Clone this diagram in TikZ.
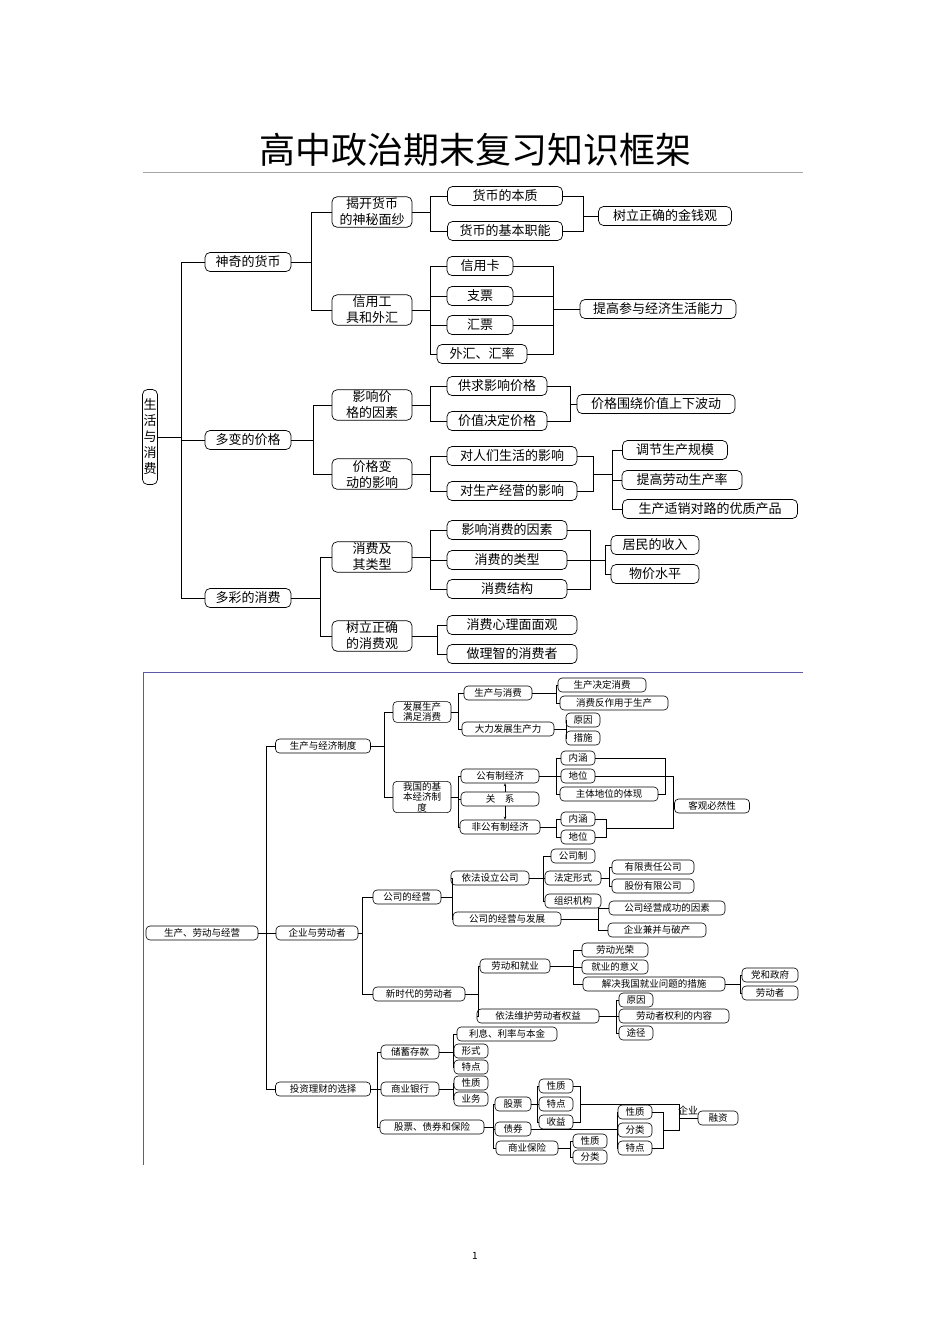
\documentclass[tikz,border=0pt]{standalone}
\usepackage{fontspec}
\setmainfont{Noto Sans CJK SC}
\usetikzlibrary{arrows.meta}
\tikzset{bx/.style={draw,rounded corners=5pt,inner sep=1.2pt,align=center,line width=0.7pt,minimum height=#1},bx/.default=19pt,
 sm/.style={draw,rounded corners=4pt,inner sep=0.8pt,align=center,line width=0.6pt,minimum height=14pt,font=\fontsize{9.5}{10.5}\selectfont},
 every path/.style={line width=0.7pt}}
\newcommand\Nd[5]{\node[bx,minimum width=#4pt] (#1) at (#2,#3) {#5};}
\newcommand\Ns[5]{\node[sm,minimum width=#4pt] (#1) at (#2,#3) {#5};}
\newcommand\lk[3]{\coordinate (tmpb) at (#2,0); \draw (#1.east) -- (#1.east -| tmpb) |- (#3.west);}
\begin{document}
\begin{tikzpicture}[x=1pt,y=-1pt]
\useasboundingbox (0,0) rectangle (950,1344);
\fill[white] (0,0) rectangle (950,1344);
\node at (475,150) {\fontsize{36}{40}\selectfont 高中政治期末复习知识框架};
\draw[gray!70,line width=0.5pt] (143,172) -- (803,172);
\begin{scope}[font=\fontsize{13}{16}\selectfont]
\node[bx,minimum width=15pt,minimum height=95pt,inner sep=0.5pt] (root) at (150,437) {生\\活\\与\\消\\费};
\Nd{a1}{248}{262}{86}{神奇的货币}
\Nd{a2}{248}{440}{86}{多变的价格}
\Nd{a3}{248}{598}{86}{多彩的消费}
\foreach \c in {a1,a2,a3}{\lk{root}{181}{\c}}
\Nd{b1}{372}{212}{80}{揭开货币\\的神秘面纱}
\Nd{b2}{372}{310}{80}{信用工\\具和外汇}
\Nd{b3}{372}{405}{80}{影响价\\格的因素}
\Nd{b4}{372}{474}{80}{价格变\\动的影响}
\Nd{b5}{372}{557}{80}{消费及\\其类型}
\Nd{b6}{372}{636}{80}{树立正确\\的消费观}
\lk{a1}{311}{b1}\lk{a1}{311}{b2}
\lk{a2}{313}{b3}\lk{a2}{313}{b4}
\lk{a3}{320}{b5}\lk{a3}{320}{b6}
\Nd{c1}{505}{196}{115}{货币的本质}
\Nd{c2}{505}{231}{115}{货币的基本职能}
\lk{b1}{430}{c1}\lk{b1}{430}{c2}
\Nd{d1}{665}{216}{133}{树立正确的金钱观}
\lk{c1}{583}{d1}\lk{c2}{583}{d1}
\Nd{c3}{480}{266}{66}{信用卡}
\Nd{c4}{480}{296}{66}{支票}
\Nd{c5}{480}{325}{66}{汇票}
\Nd{c6}{482}{354}{90}{外汇、汇率}
\Nd{d2}{658}{309}{156}{提高参与经济生活能力}
\foreach \c in {c3,c4,c5,c6}{\lk{b2}{430}{\c}\lk{\c}{553}{d2}}
\Nd{c7}{497}{386}{100}{供求影响价格}
\Nd{c8}{497}{421}{100}{价值决定价格}
\Nd{d3}{656}{404}{158}{价格围绕价值上下波动}
\foreach \c in {c7,c8}{\lk{b3}{430}{\c}\lk{\c}{570}{d3}}
\Nd{c9}{512}{456}{130}{对人们生活的影响}
\Nd{c10}{512}{491}{130}{对生产经营的影响}
\lk{b4}{430}{c9}\lk{b4}{430}{c10}
\coordinate (J) at (593,474); \coordinate (J2) at (612,474);
\draw (c9.east) -| (J); \draw (c10.east) -| (J); \draw (J) -- (J2);
\Nd{e1}{675}{450}{105}{调节生产规模}
\Nd{e2}{682}{480}{120}{提高劳动生产率}
\Nd{e3}{710}{509}{175}{生产适销对路的优质产品}
\foreach \e in {e1,e2,e3}{\draw (J2) |- (\e.west);}
\Nd{c11}{507}{530}{120}{影响消费的因素}
\Nd{c12}{507}{560}{120}{消费的类型}
\Nd{c13}{507}{589}{120}{消费结构}
\coordinate (K) at (590,560); \coordinate (K2) at (605,560);
\foreach \c in {c11,c12,c13}{\lk{b5}{430}{\c}\draw (\c.east) -| (K);}
\draw (K) -- (K2);
\Nd{e4}{655}{545}{88}{居民的收入}
\Nd{e5}{655}{574}{88}{物价水平}
\draw (K2) |- (e4.west); \draw (K2) |- (e5.west);
\Nd{c14}{512}{625}{130}{消费心理面面观}
\Nd{c15}{512}{654}{130}{做理智的消费者}
\lk{b6}{437}{c14}\lk{b6}{437}{c15}
\end{scope}
% bottom section
\draw[blue!30!gray,line width=0.6pt] (143,1165) -- (143,672) -- (803,672);
\begin{scope}[every path/.style={line width=0.6pt}]
\Ns{r}{202}{933}{112}{生产、劳动与经营}
\Ns{p1}{323}{746}{95}{生产与经济制度}
\Ns{p2}{317}{933}{82}{企业与劳动者}
\Ns{p3}{323}{1089}{95}{投资理财的选择}
\foreach \p in {p1,p2,p3}{\lk{r}{266}{\p}}
\node[sm,minimum width=58pt] (q1) at (422,712) {发展生产\\满足消费};
\node[sm,minimum width=58pt] (q2) at (422,797) {我国的基\\本经济制\\度};
\lk{p1}{384}{q1}\lk{p1}{384}{q2}
\Ns{s1}{498}{693}{68}{生产与消费}
\Ns{s2}{508}{729}{92}{大力发展生产力}
\lk{q1}{458}{s1}\lk{q1}{458}{s2}
\Ns{t1}{602}{685}{88}{生产决定消费}
\Ns{t2}{614}{703}{108}{消费反作用于生产}
\lk{s1}{556}{t1}\lk{s1}{556}{t2}
\Ns{t3}{583}{720}{34}{原因}
\Ns{t4}{583}{738}{34}{措施}
\lk{s2}{566}{t3}\lk{s2}{566}{t4}
\Ns{s3}{500}{776}{78}{公有制经济}
\Ns{s4}{500}{799}{78}{关\quad 系}
\Ns{s5}{500}{827}{80}{非公有制经济}
\lk{q2}{458}{s3}\lk{q2}{458}{s4}\lk{q2}{458}{s5}
\draw[-{Stealth[length=3pt,width=2.5pt]}] ([xshift=5pt]s4.north) -- ([xshift=5pt]s3.south);
\draw[-{Stealth[length=3pt,width=2.5pt]}] ([xshift=5pt]s4.south) -- ([xshift=5pt]s5.north);
\Ns{u1}{578}{758}{34}{内涵}
\Ns{u2}{578}{776}{34}{地位}
\Ns{u3}{609}{794}{98}{主体地位的体现}
\lk{s3}{556}{u1}\lk{s3}{556}{u2}\lk{s3}{556}{u3}
\draw (u1.east) -| (665,794) -- (u3.east);
\Ns{u4}{578}{819}{34}{内涵}
\Ns{u5}{578}{837}{34}{地位}
\lk{s5}{556}{u4}\lk{s5}{556}{u5}
\draw (u4.east) -| (606,837) -- (u5.east);
\Ns{v1}{712}{806}{75}{客观必然性}
\draw (u2.east) -| (673,828) -- (606,828);
\draw (673,806) -- (v1.west);
\Ns{q3}{407}{897}{68}{公司的经营}
\Ns{q4}{419}{994}{92}{新时代的劳动者}
\lk{p2}{362}{q3}\lk{p2}{362}{q4}
\Ns{s6}{490}{878}{78}{依法设立公司}
\Ns{s7}{507}{919}{108}{公司的经营与发展}
\lk{q3}{452}{s6}\lk{q3}{452}{s7}
\Ns{w1}{573}{856}{44}{公司制}
\Ns{w2}{573}{878}{56}{法定形式}
\Ns{w3}{573}{901}{56}{组织机构}
\lk{s6}{543}{w1}\lk{s6}{543}{w2}\lk{s6}{543}{w3}
\Ns{x1}{653}{867}{82}{有限责任公司}
\Ns{x2}{653}{886}{82}{股份有限公司}
\lk{w2}{609}{x1}\lk{w2}{609}{x2}
\Ns{w4}{667}{908}{116}{公司经营成功的因素}
\Ns{w5}{657}{930}{98}{企业兼并与破产}
\lk{s7}{598}{w4}\lk{s7}{598}{w5}
\Ns{s8}{515}{966}{70}{劳动和就业}
\Ns{s9}{538}{1016}{122}{依法维护劳动者权益}
\lk{q4}{478}{s8}\lk{q4}{478}{s9}
\Ns{w6}{615}{950}{66}{劳动光荣}
\Ns{w7}{615}{967}{66}{就业的意义}
\Ns{w8}{654}{984}{142}{解决我国就业问题的措施}
\lk{s8}{573}{w6}\lk{s8}{573}{w7}\lk{s8}{573}{w8}
\Ns{x3}{770}{975}{56}{党和政府}
\Ns{x4}{770}{993}{56}{劳动者}
\lk{w8}{740}{x3}\lk{w8}{740}{x4}
\Ns{w9}{636}{1000}{34}{原因}
\Ns{w10}{674}{1016}{110}{劳动者权利的内容}
\Ns{w11}{636}{1033}{34}{途径}
\lk{s9}{616}{w9}\lk{s9}{616}{w10}\lk{s9}{616}{w11}
\Ns{q5}{410}{1052}{58}{储蓄存款}
\Ns{q6}{410}{1089}{58}{商业银行}
\Ns{q7}{432}{1127}{104}{股票、债券和保险}
\lk{p3}{377}{q5}\lk{p3}{377}{q6}\lk{p3}{377}{q7}
\Ns{y1}{507}{1034}{100}{利息、利率与本金}
\Ns{y2}{471}{1051}{34}{形式}
\Ns{y3}{471}{1067}{34}{特点}
\lk{q5}{453}{y1}\lk{q5}{453}{y2}\lk{q5}{453}{y3}
\Ns{y4}{471}{1083}{34}{性质}
\Ns{y5}{471}{1099}{34}{业务}
\lk{q6}{453}{y4}\lk{q6}{453}{y5}
\Ns{z1}{513}{1104}{36}{股票}
\Ns{z2}{513}{1129}{36}{债券}
\Ns{z3}{527}{1148}{62}{商业保险}
\lk{q7}{493}{z1}\lk{q7}{493}{z2}\lk{q7}{493}{z3}
\Ns{g1}{556}{1086}{34}{性质}
\Ns{g2}{556}{1104}{34}{特点}
\Ns{g3}{556}{1122}{34}{收益}
\lk{z1}{537}{g1}\lk{z1}{537}{g2}\lk{z1}{537}{g3}
\draw (g1.east) -| (580,1122) -- (g3.east);
\Ns{h1}{635}{1112}{34}{性质}
\Ns{h2}{635}{1130}{34}{分类}
\Ns{h3}{635}{1148}{34}{特点}
\lk{z2}{617}{h1}\lk{z2}{617}{h2}\lk{z2}{617}{h3}
\draw (h1.east) -| (663,1148) -- (h3.east);
\draw (580,1104) -- (679,1104) -- (679,1130) -- (663,1130);
\node[font=\fontsize{10}{11}\selectfont,inner sep=0.5pt] (qy) at (688,1110) {企业};
\Ns{rz}{718}{1118}{40}{融资}
\draw (679,1118) -- (rz.west);
\Ns{k1}{590}{1141}{34}{性质}
\Ns{k2}{590}{1157}{34}{分类}
\lk{z3}{570}{k1}\lk{z3}{570}{k2}
\end{scope}
\node[font=\fontsize{10}{11}\selectfont] (pg) at (475,1256) {1};
\end{tikzpicture}
\end{document}
